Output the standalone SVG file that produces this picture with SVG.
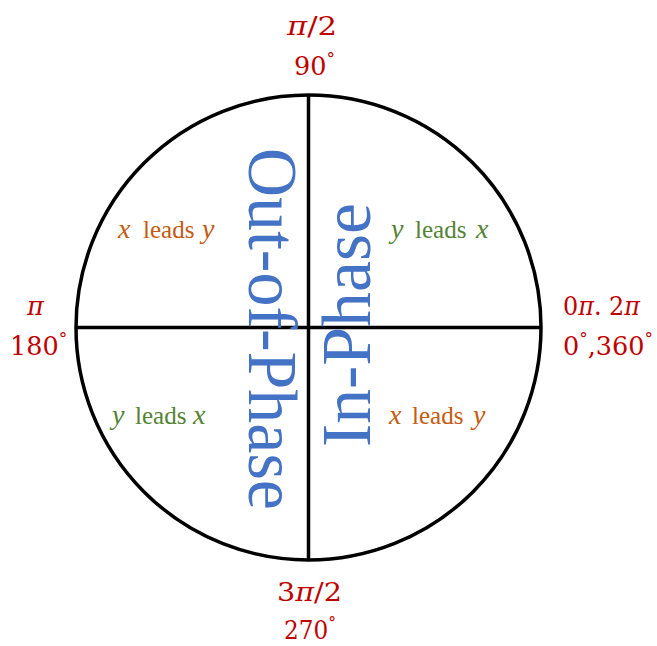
<svg xmlns="http://www.w3.org/2000/svg" width="657" height="646" viewBox="0 0 657 646">
<style>
.ang{font-family:"DejaVu Serif","Liberation Serif",serif;font-size:25.5px;fill:#C00000}
.d{font-size:17px}
.it{font-style:italic}
.q{font-family:"Liberation Serif","Times New Roman",serif;font-size:25px}
.v{font-style:italic;font-size:28px}
.org{fill:#C55A11}
.grn{fill:#548235}
.big{font-family:"Liberation Serif","Times New Roman",serif;font-size:69px;fill:#4472C4;text-anchor:middle}
.ln{stroke:#000;stroke-width:3.5;fill:none}
</style>
<rect width="657" height="646" fill="#fff"/>
<g id="connectors">
<circle class="ln" cx="308.5" cy="327.5" r="232.5"/>
<line class="ln" x1="308.5" y1="95" x2="308.5" y2="560"/>
<line class="ln" x1="76" y1="327.5" x2="541" y2="327.5"/>
</g>
<g id="label-top">
<text class="ang" x="287" y="35" textLength="50" lengthAdjust="spacingAndGlyphs"><tspan class="it">π</tspan>/2</text>
<text class="ang" x="294" y="75">90<tspan class="d" dy="-11">°</tspan></text>
</g>
<g id="label-left">
<text class="ang it" x="27" y="315">π</text>
<text class="ang" x="10" y="355">180<tspan class="d" dy="-11">°</tspan></text>
</g>
<g id="label-right">
<text class="ang" x="563" y="315" textLength="77" lengthAdjust="spacingAndGlyphs">0<tspan class="it">π</tspan>. 2<tspan class="it">π</tspan></text>
<text class="ang" x="563" y="355">0<tspan class="d" dy="-11">°</tspan><tspan dy="11">,360</tspan><tspan class="d" dy="-11">°</tspan></text>
</g>
<g id="label-bottom">
<text class="ang" x="277" y="601" textLength="65" lengthAdjust="spacingAndGlyphs">3<tspan class="it">π</tspan>/2</text>
<text class="ang" x="284" y="639" textLength="52" lengthAdjust="spacingAndGlyphs">270<tspan class="d" dy="-11">°</tspan></text>
</g>
<g id="q-upper-left">
<text class="q org" y="238"><tspan class="v" x="118">x</tspan><tspan x="143">leads</tspan><tspan class="v" x="202">y</tspan></text>
</g>
<g id="q-upper-right">
<text class="q grn" y="238"><tspan class="v" x="391">y</tspan><tspan x="415">leads</tspan><tspan class="v" x="476">x</tspan></text>
</g>
<g id="q-lower-left">
<text class="q grn" y="424"><tspan class="v" x="112">y</tspan><tspan x="135">leads</tspan><tspan class="v" x="193">x</tspan></text>
</g>
<g id="q-lower-right">
<text class="q org" y="424"><tspan class="v" x="389">x</tspan><tspan x="412">leads</tspan><tspan class="v" x="473">y</tspan></text>
</g>
<g id="out-of-phase">
<text class="big" transform="translate(249,329) rotate(90)" textLength="362" lengthAdjust="spacingAndGlyphs">Out-of-Phase</text>
</g>
<g id="in-phase">
<text class="big" transform="translate(370,325) rotate(-90)" textLength="244" lengthAdjust="spacingAndGlyphs">In-Phase</text>
</g>
</svg>
